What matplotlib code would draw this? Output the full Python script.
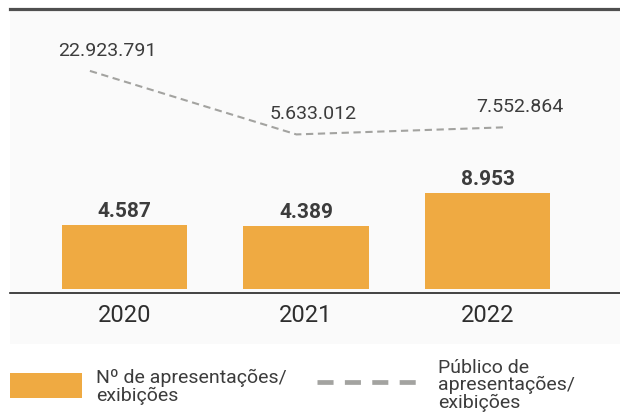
import numpy as np
import matplotlib
matplotlib.use("Agg")
import matplotlib.pyplot as plt
from matplotlib.patches import Rectangle
from matplotlib.lines import Line2D

# dados
anos = ["2020", "2021", "2022"]
apresentacoes = [4587, 4389, 8953]
publico = [22923791, 5633012, 7552864]
rotulos_apres = ["4.587", "4.389", "8.953"]
rotulos_publico = ["22.923.791", "5.633.012", "7.552.864"]

# cores / estilo
LARANJA = "#EFAA42"
CINZA_LINHA = "#A3A3A0"
TEXTO = "#3C3C3C"
FUNDO = "#FAFAFA"
plt.rcParams["font.family"] = ["Roboto", "DejaVu Sans"]

W, H = 620, 414
def fx(px):
    return px / W
def fy(py):
    return 1 - py / H

fig = plt.figure(figsize=(W / 100, H / 100), dpi=100)
fig.patch.set_facecolor("white")

# painel cinza claro e linha superior
fig.patches.append(Rectangle((fx(10), fy(345)), fx(610), (345 - 10) / H,
                             transform=fig.transFigure, facecolor=FUNDO,
                             edgecolor="none", zorder=-10))
fig.lines.append(Line2D([fx(10), 1], [fy(10), fy(10)], transform=fig.transFigure,
                        color="#4F4F4F", linewidth=2.3, zorder=-5))

pos = [fx(10), fy(294.3), fx(610), (294.3 - 20) / H]

# barras
ax = fig.add_axes(pos)
ax.set_facecolor("none")
x = np.arange(len(anos))
base = -4384  # as barras partem de um piso abaixo do zero (eixo quebrado no original)
ax.bar(x, np.array(apresentacoes) - base, bottom=base, width=0.69, color=LARANJA, zorder=2)
ax.set_xlim(-0.631, 2.730)
ax.set_ylim(-5028, 33389)
for xi, v, txt in zip(x, apresentacoes, rotulos_apres):
    ax.annotate(txt, (xi, v), xytext=(0, 9), textcoords="offset pixels",
                ha="center", va="baseline", fontsize=15, fontweight="bold", color=TEXTO)

ax.set_xticks(x)
ax.set_xticklabels(anos, fontsize=17, color="#2E2E2E")
ax.tick_params(axis="x", length=0, pad=7)
ax.set_yticks([])
for s in ["top", "left", "right"]:
    ax.spines[s].set_visible(False)
ax.spines["bottom"].set_color("#222222")
ax.spines["bottom"].set_linewidth(1.2)

# linha do público
ax2 = fig.add_axes(pos)
ax2.set_facecolor("none")
ax2.axis("off")
ax2.plot(x, publico, color=CINZA_LINHA, linewidth=1.5, dashes=(3.5, 2.2))
ax2.set_xlim(-0.387, 2.567)
ax2.set_ylim(-37.61e6, 37.05e6)
for xi, v, txt in zip(x, publico, rotulos_publico):
    ax2.annotate(txt, (xi, v), xytext=(17, 21), textcoords="offset pixels",
                 ha="center", va="center", fontsize=14, color=TEXTO)

# legenda
fig.patches.append(Rectangle((fx(10), fy(399.3)), fx(71.7), 25.3 / H,
                             transform=fig.transFigure, facecolor=LARANJA,
                             edgecolor="none"))
fig.text(fx(96), fy(387), "Nº de apresentações/\nexibições", ha="left", va="center",
         fontsize=14, color=TEXTO, linespacing=0.95)
fig.lines.append(Line2D([fx(317), fx(417)], [fy(383), fy(383)], transform=fig.transFigure,
                        color=CINZA_LINHA, linewidth=3.4, dashes=(3.4, 2.4),
                        solid_capstyle="butt", dash_capstyle="butt"))
fig.text(fx(438), fy(359), "Público de\napresentações/\nexibições", ha="left", va="top",
         fontsize=14, color=TEXTO, linespacing=0.95)

fig.savefig("out.png", dpi=100)
